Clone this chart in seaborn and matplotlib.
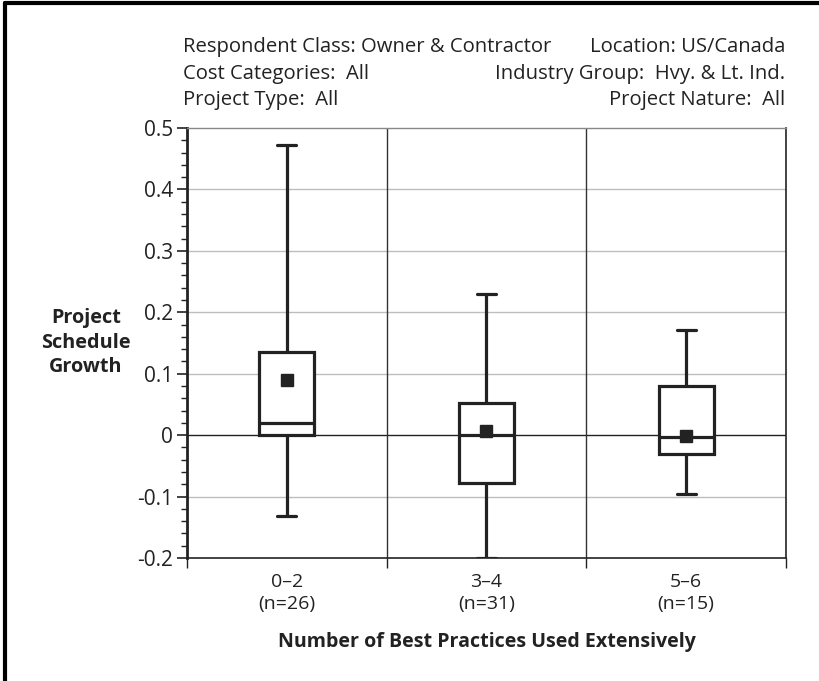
import matplotlib
matplotlib.use("Agg")
import matplotlib.pyplot as plt
import seaborn as sns
import pandas as pd
import numpy as np
from matplotlib.lines import Line2D
from matplotlib.ticker import MultipleLocator

categories = ["0\u20132\n(n=26)", "3\u20134\n(n=31)", "5\u20136\n(n=15)"]
whisker_low = [-0.132, -0.200, -0.096]
q1_values = [0.000, -0.078, -0.031]
median_values = [0.020, 0.000, -0.003]
q3_values = [0.136, 0.052, 0.080]
whisker_high = [0.472, 0.229, 0.171]
mean_values = [0.090, 0.007, -0.002]

header_left = ["Respondent Class: Owner & Contractor", "Cost Categories:  All", "Project Type:  All"]
header_right = ["Location: US/Canada", "Industry Group:  Hvy. & Lt. Ind.", "Project Nature:  All"]

sns.set_theme(style="white")
plt.rcParams["font.family"] = ["Open Sans", "DejaVu Sans"]

rows = []
for i, c in enumerate(categories):
    for v in (whisker_low[i], q1_values[i], median_values[i], q3_values[i], whisker_high[i]):
        rows.append({"cat": c, "val": v})
df = pd.DataFrame(rows)

fig = plt.figure(figsize=(8.2, 6.81), dpi=100)
ax = fig.add_axes([187/820, 1-558/681, (786-187)/820, (558-128)/681])

ax.set_ylim(-0.2, 0.5)
ax.set_xlim(-0.5, 2.5)
for y in np.arange(-0.1, 0.45, 0.1):
    if abs(y) < 1e-9:
        continue
    ax.axhline(y, color="#bdbdbd", lw=1.0, zorder=0)
ax.axhline(0, color="#222222", lw=1.0, zorder=0.5)
for xb in (0.5, 1.5):
    ax.axvline(xb, color="#333333", lw=1.0, zorder=0.5)

sns.boxplot(data=df, x="cat", y="val", order=categories, whis=(0, 100),
            width=0.275, color="white", linecolor="#222222", linewidth=2.3,
            fill=True, ax=ax, zorder=2)

# narrow the whisker caps
cap_half = 0.048
ends = set(np.round(whisker_low + whisker_high, 4))
for ln in ax.lines:
    xd = np.asarray(ln.get_xdata(), dtype=float)
    yd = np.asarray(ln.get_ydata(), dtype=float)
    if len(xd) == 2 and np.isclose(yd[0], yd[1]) and round(float(yd[0]), 4) in ends:
        cx = xd.mean()
        ln.set_xdata([cx - cap_half, cx + cap_half])

ax.plot(range(len(categories)), mean_values, ls="none", marker="s",
        markersize=8.5, color="#222222", zorder=5)

for name, sp in ax.spines.items():
    sp.set_visible(True)
    sp.set_color("#222222")
    sp.set_linewidth(1.2)
ax.spines["top"].set_color("#888888")
ax.spines["top"].set_linewidth(1.0)
ax.spines["left"].set_linewidth(2.0)

ticks = np.round(np.arange(-0.2, 0.51, 0.1), 1)
ax.set_yticks(ticks)
ax.yaxis.set_minor_locator(MultipleLocator(0.02))
ax.set_yticklabels(["0" if abs(t) < 1e-9 else f"{t:.1f}" for t in ticks], fontsize=15, color="#222222")
ax.tick_params(axis="y", which="major", direction="out", length=7, width=1.2, color="#222222", left=True, pad=3)
ax.tick_params(axis="y", which="minor", direction="out", length=4, width=1.0, color="#222222", left=True)

ax.set_xticks([-0.5, 0.5, 1.5, 2.5], minor=True)
ax.tick_params(axis="x", which="minor", direction="out", length=7, width=1.0, color="#222222", bottom=True)
ax.tick_params(axis="x", which="major", length=0, pad=11)
ax.set_xticks(range(len(categories)))
ax.set_xticklabels(categories, fontsize=14, color="#222222", linespacing=1.3)

ax.set_xlabel("")
ax.set_ylabel("")

fig.text(86/820, 1-343/681, "Project\nSchedule\nGrowth", ha="center", va="center",
         fontsize=14.3, fontweight="bold", color="#222222", linespacing=1.3)
fig.text(487/820, 1-642/681, "Number of Best Practices Used Extensively", ha="center", va="center",
         fontsize=14.1, fontweight="bold", color="#222222")

for i, (l, r) in enumerate(zip(header_left, header_right)):
    yy = 1 - (47 + i * 26.5) / 681
    fig.text(183/820, yy, l, ha="left", va="center", fontsize=14.6, color="#222222")
    fig.text(785/820, yy, r, ha="right", va="center", fontsize=14.6, color="#222222")

fig.add_artist(Line2D([5/820, 5/820], [0, 1-3/681], transform=fig.transFigure, color="black", lw=3))
fig.add_artist(Line2D([5/820, 1], [1-3/681, 1-3/681], transform=fig.transFigure, color="black", lw=3))

fig.savefig("out.png", dpi=100)
